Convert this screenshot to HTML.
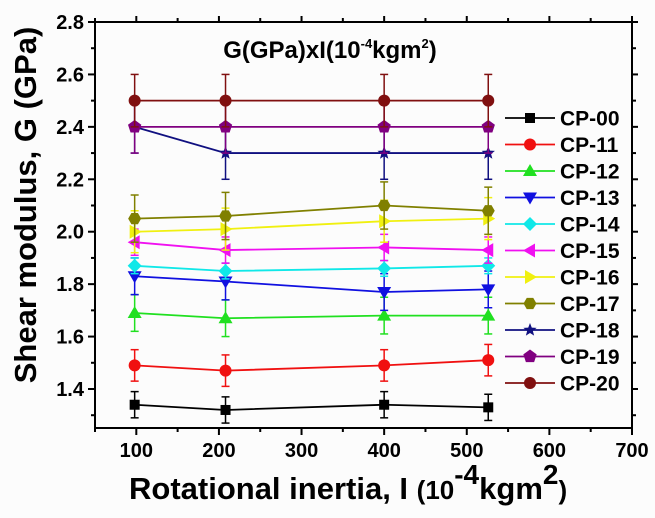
<!DOCTYPE html>
<html><head><meta charset="utf-8"><style>
body{margin:0;background:#fcfcfc}
svg text{font-family:"Liberation Sans",Arial,sans-serif;font-weight:bold}
</style></head><body>
<svg id="c" width="655" height="513" viewBox="0 0 655 513" xmlns="http://www.w3.org/2000/svg">
<rect width="655" height="513" fill="#fcfcfc"/>
</svg>
<script>
const xValues=[98,208,400,526];
const seriesNames=["CP-00","CP-11","CP-12","CP-13","CP-14","CP-15","CP-16","CP-17","CP-18","CP-19","CP-20"];
const cp00=[1.34,1.32,1.34,1.33];
const cp11=[1.49,1.47,1.49,1.51];
const cp12=[1.69,1.67,1.68,1.68];
const cp13=[1.83,1.81,1.77,1.78];
const cp14=[1.87,1.85,1.86,1.87];
const cp15=[1.96,1.93,1.94,1.93];
const cp16=[2.00,2.01,2.04,2.05];
const cp17=[2.05,2.06,2.10,2.08];
const cp18=[2.40,2.30,2.30,2.30];
const cp19=[2.40,2.40,2.40,2.40];
const cp20=[2.50,2.50,2.50,2.50];
const errors=[0.05,0.06,0.07,0.07,0.03,0.05,0.08,0.09,0.1,0.1,0.1];
const xTicks=[100,200,300,400,500,600,700];
const yTicks=[1.4,1.6,1.8,2.0,2.2,2.4,2.6,2.8];
const colors=["#000","#f01010","#20e020","#1010e0","#10e8e8","#f010f0","#f0f010","#808000","#101080","#800080","#801010"];
const markers=["sq","ci","tu","td","di","tl","tr","hx","st","pe","ci"];
const allSeries=[cp00,cp11,cp12,cp13,cp14,cp15,cp16,cp17,cp18,cp19,cp20];

const L=95,R=632,T=22,B=428;
const xs=v=>L+(v-50)/650*(R-L);
const ys=v=>T+(2.8-v)/1.4*(389-T);
const svg=document.getElementById('c');
const NS="http://www.w3.org/2000/svg";
function mk(tag,attrs,parent){const e=document.createElementNS(NS,tag);for(const k in attrs)e.setAttribute(k,attrs[k]);(parent||svg).appendChild(e);return e;}

function marker(type,x,y,c,g){
  const r=6;
  if(type==="sq")return mk('rect',{x:x-5,y:y-5,width:10,height:10,fill:c},g);
  if(type==="ci")return mk('circle',{cx:x,cy:y,r:r,fill:c},g);
  if(type==="tu")return mk('polygon',{points:`${x},${y-7} ${x-7},${y+5} ${x+7},${y+5}`,fill:c},g);
  if(type==="td")return mk('polygon',{points:`${x},${y+7} ${x-7},${y-5} ${x+7},${y-5}`,fill:c},g);
  if(type==="di")return mk('polygon',{points:`${x},${y-7} ${x+7},${y} ${x},${y+7} ${x-7},${y}`,fill:c},g);
  if(type==="tl")return mk('polygon',{points:`${x-7},${y} ${x+5},${y-7} ${x+5},${y+7}`,fill:c},g);
  if(type==="tr")return mk('polygon',{points:`${x+7},${y} ${x-5},${y-7} ${x-5},${y+7}`,fill:c},g);
  if(type==="hx"){let p=[];for(let i=0;i<6;i++){const a=Math.PI/3*i;p.push((x+6.5*Math.cos(a))+","+(y+6.5*Math.sin(a)));}return mk('polygon',{points:p.join(' '),fill:c},g);}
  if(type==="pe"){let p=[];for(let i=0;i<5;i++){const a=-Math.PI/2+2*Math.PI/5*i;p.push((x+7*Math.cos(a))+","+(y+7*Math.sin(a)));}return mk('polygon',{points:p.join(' '),fill:c},g);}
  if(type==="st"){let p=[];for(let i=0;i<10;i++){const a=-Math.PI/2+Math.PI/5*i;const rr=i%2?3:7;p.push((x+rr*Math.cos(a))+","+(y+rr*Math.sin(a)));}return mk('polygon',{points:p.join(' '),fill:c},g);}
}

const frame=mk('rect',{x:L,y:T,width:R-L,height:B-T,fill:'none',stroke:'#000','stroke-width':2});


xTicks.forEach(v=>{
  const x=xs(v);
  mk('line',{x1:x,y1:B,x2:x,y2:B+7,stroke:'#000','stroke-width':2});
  mk('line',{x1:x,y1:T,x2:x,y2:T-6,stroke:'#000','stroke-width':2});
  const t=mk('text',{x:x,y:B+29,'text-anchor':'middle','font-size':20});t.textContent=v;
  
  
});
[50,150,250,350,450,550,650].forEach(v=>{const x=xs(v);mk('line',{x1:x,y1:B,x2:x,y2:B+4,stroke:'#000','stroke-width':2});mk('line',{x1:x,y1:T,x2:x,y2:T-4,stroke:'#000','stroke-width':2});});
yTicks.forEach(v=>{
  const y=ys(v);
  mk('line',{x1:L,y1:y,x2:L-7,y2:y,stroke:'#000','stroke-width':2});
  mk('line',{x1:R,y1:y,x2:R+6,y2:y,stroke:'#000','stroke-width':2});
  const t=mk('text',{x:L-11,y:y+7,'text-anchor':'end','font-size':20});t.textContent=v.toFixed(1);
  
  
});
[1.3,1.5,1.7,1.9,2.1,2.3,2.5,2.7].forEach(v=>{const y=ys(v);mk('line',{x1:L,y1:y,x2:L-4,y2:y,stroke:'#000','stroke-width':2});mk('line',{x1:R,y1:y,x2:R+4,y2:y,stroke:'#000','stroke-width':2});});

allSeries.forEach((s,i)=>{
  const g=mk('g',{});
  
  
  const c=colors[i];
  mk('polyline',{points:s.map((v,j)=>xs(xValues[j])+","+ys(v)).join(' '),fill:'none',stroke:c,'stroke-width':1.8},g);
  s.forEach((v,j)=>{
    const x=xs(xValues[j]),y1=ys(v+errors[i]),y2=ys(v-errors[i]);
    mk('line',{x1:x,y1:y1,x2:x,y2:y2,stroke:c,'stroke-width':1.5},g);
    mk('line',{x1:x-4,y1:y1,x2:x+4,y2:y1,stroke:c,'stroke-width':1.5},g);
    mk('line',{x1:x-4,y1:y2,x2:x+4,y2:y2,stroke:c,'stroke-width':1.5},g);
    const m=marker(markers[i],x,ys(v),c,g);
    
    
  });
  const ly=118+i*26.5;
  const lg=mk('g',{});
  
  
  mk('line',{x1:505,y1:ly,x2:555,y2:ly,stroke:c,'stroke-width':1.8},lg);
  marker(markers[i],530,ly,c,lg);
  const t=mk('text',{x:560,y:ly+7.5,'font-size':21},lg);t.textContent=seriesNames[i];
});

let t=mk('text',{x:330,y:58,'text-anchor':'middle','font-size':24,'font-weight':'normal'});


t.innerHTML='G(GPa)xI(10<tspan dy="-10" font-size="13">-4</tspan><tspan dy="10">kgm</tspan><tspan dy="-10" font-size="13">2</tspan><tspan dy="10">)</tspan>';
t=mk('text',{x:0,y:0,'text-anchor':'middle','font-size':31,transform:'translate(36,205) rotate(-90)'});


t.textContent='Shear modulus,  G  (GPa)';
t=mk('text',{x:129,y:499,'font-size':31});


t.innerHTML='Rotational inertia, I <tspan font-size="26">(10</tspan><tspan dy="-15" font-size="28">-4</tspan><tspan dy="15" font-size="31">kgm</tspan><tspan dy="-15" font-size="28">2</tspan><tspan dy="15" font-size="26">)</tspan>';
</script>
</body></html>
